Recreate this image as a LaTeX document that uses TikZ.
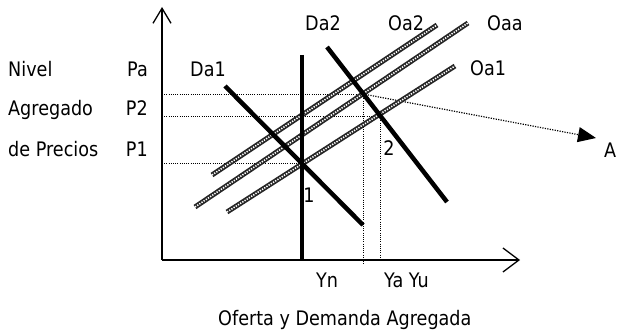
\documentclass[tikz,border=0pt]{standalone}
\usepackage{fontspec}
\setmainfont{DejaVu Sans}[FakeStretch=0.88]
\usetikzlibrary{arrows.meta}
\tikzset{
  lbl/.style={inner sep=0pt, font=\fontsize{20}{24}\selectfont},
  axisline/.style={line width=1.3pt, black},
  thickline/.style={line width=4.5pt, black},
  supply/.style={line width=5pt, black!85, postaction={draw, white, line width=1.6pt, dash pattern=on 1.3pt off 1.3pt}},
  guide/.style={line width=0.9pt, black, dash pattern=on 1pt off 1.2pt},
  guidearrow/.style={line width=1.2pt, black, dash pattern=on 1.2pt off 1.3pt}
}
\begin{document}
\begin{tikzpicture}[x=1pt,y=-1pt]
\useasboundingbox (0,0) rectangle (617,336);
\clip (0,0) rectangle (617,336);
% key points
\coordinate (O) at (162,260);
\coordinate (ytip) at (162,7);
\coordinate (xtip) at (520,260);
\coordinate (yntop) at (302,55);
\coordinate (ynbot) at (302,260);
\coordinate (da1a) at (225,86);
\coordinate (da1b) at (363,225);
\coordinate (da2a) at (327,47);
\coordinate (da2b) at (447,202);
\coordinate (oa2a) at (212,175);
\coordinate (oa2b) at (437,25);
\coordinate (oaaa) at (195,207);
\coordinate (oaab) at (468,23);
\coordinate (oa1a) at (227,212);
\coordinate (oa1b) at (455,66);
\coordinate (pa0) at (162,94);
\coordinate (pa1) at (363,94);
\coordinate (p20) at (162,116);
\coordinate (p21) at (380,116);
\coordinate (p10) at (162,163);
\coordinate (p11) at (302,163);
\coordinate (ya0) at (363,264);
\coordinate (yu0) at (380,260);
\coordinate (atip) at (596,138);

% guide lines
\draw[guide] (pa0) -- (pa1);
\draw[guide] (p20) -- (p21);
\draw[guide] (p10) -- (p11);
\draw[guide] (pa1) -- (ya0);
\draw[guide] (p21) -- (yu0);
\draw[guidearrow, -{Triangle[length=18pt,width=15pt]}] (pa1) -- (atip);

% axes
\draw[axisline, -{Straight Barb[length=15pt,width=18pt]}] (O) -- (ytip);
\draw[axisline, -{Straight Barb[length=16pt,width=24pt]}] (O) -- (xtip);

% supply curves
\draw[supply] (oa2a) -- (oa2b);
\draw[supply] (oaaa) -- (oaab);
\draw[supply] (oa1a) -- (oa1b);

% demand and long-run
\draw[thickline] (yntop) -- (ynbot);
\draw[thickline] (da1a) -- (da1b);
\draw[thickline] (da2a) -- (da2b);

% labels
\node[lbl, anchor=base west] (nivel) at (8,77) {Nivel};
\node[lbl, anchor=base west] (agregado) at (8,116) {Agregado};
\node[lbl, anchor=base west] (precios) at (8,157) {de Precios};
\node[lbl, anchor=base east] (pa) at (148,77) {Pa};
\node[lbl, anchor=base east] (p2) at (148,116) {P2};
\node[lbl, anchor=base east] (p1) at (148,157) {P1};
\node[lbl, anchor=base west] (da1) at (190,77) {Da1};
\node[lbl, anchor=base west] (da2) at (305,31) {Da2};
\node[lbl, anchor=base west] (oa2) at (388,31) {Oa2};
\node[lbl, anchor=base west] (oaa) at (487,31) {Oaa};
\node[lbl, anchor=base west] (oa1) at (470,76) {Oa1};
\node[lbl] (one) at (309,195) {1};
\node[lbl] (two) at (389,148) {2};
\node[lbl, anchor=base west] (a) at (604,158) {A};
\node[lbl, anchor=base west] (yn) at (316,287) {Yn};
\node[lbl, anchor=base west] (yayu) at (384,287) {Ya Yu};
\node[lbl, anchor=base west] (title) at (218,325) {Oferta y Demanda Agregada};
\end{tikzpicture}
\end{document}
